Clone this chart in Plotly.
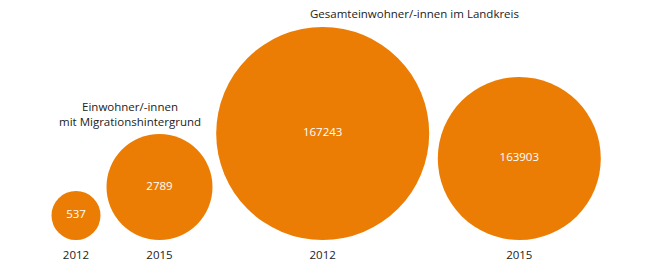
import plotly.graph_objects as go

# Data
years = ["2012", "2015", "2012", "2015"]
values = [537, 2789, 167243, 163903]
group_titles = ["Einwohner/-innen<br>mit Migrationshintergrund",
                "Gesamteinwohner/-innen im Landkreis"]

# Layout constants (pixels)
W, H = 655, 271
x_centers = [76, 159.5, 322.7, 519.3]
diameters = [49, 106, 213, 163]
baseline = 240
year_label_y = 256.5
title_pos = [(129.5, 114), (414, 13.5)]

ORANGE = "#EB7D05"
FONT = "Open Sans"

y_centers = [baseline - d / 2 for d in diameters]

fig = go.Figure()
fig.add_trace(go.Scatter(
    x=x_centers, y=y_centers,
    mode="markers+text",
    marker=dict(size=diameters, color=ORANGE, line=dict(width=0), opacity=1),
    text=[str(v) for v in values],
    textposition="middle center",
    textfont=dict(family=FONT, size=11.5, color="white"),
    hoverinfo="skip",
))
fig.add_trace(go.Scatter(
    x=x_centers, y=[year_label_y] * len(years),
    mode="text",
    text=years,
    textposition="middle center",
    textfont=dict(family=FONT, size=11.5, color="#222222"),
    hoverinfo="skip",
))

for (tx, ty), t in zip(title_pos, group_titles):
    fig.add_annotation(x=tx, y=ty, text=t, showarrow=False,
                       xanchor="center", yanchor="middle",
                       font=dict(family=FONT, size=11.5, color="#222222"),
                       align="center")

fig.update_layout(
    width=W, height=H,
    margin=dict(l=0, r=0, t=0, b=0),
    paper_bgcolor="white", plot_bgcolor="white",
    showlegend=False,
    xaxis=dict(range=[0, W], visible=False, fixedrange=True),
    yaxis=dict(range=[H, 0], visible=False, fixedrange=True),
)

fig.write_html("out.html", config={"displayModeBar": False})
